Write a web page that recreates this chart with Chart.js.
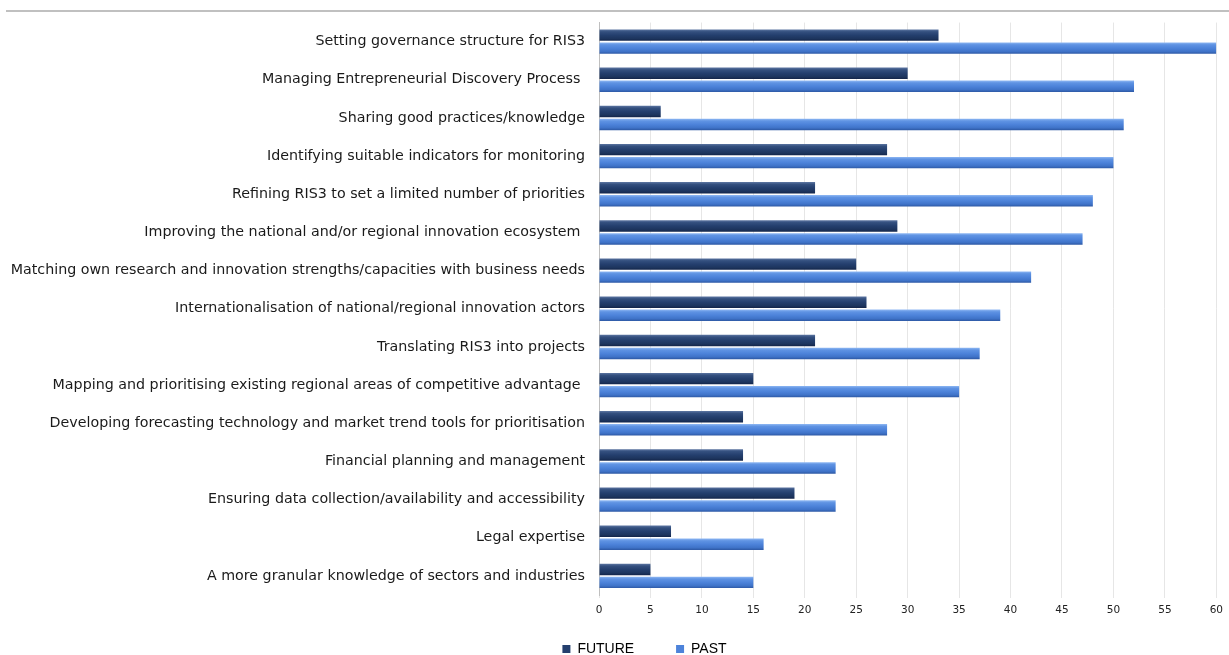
<!DOCTYPE html>
<html>
<head>
<meta charset="utf-8">
<script src="https://cdn.jsdelivr.net/npm/chart.js@4"></script>
<style>
  html, body { margin: 0; padding: 0; background: #fff; overflow: hidden; }
  #wrap { position: relative; width: 1229px; height: 655px; overflow: hidden; }
  #rule { position: absolute; left: 6px; right: 0; top: 10px; height: 2px; background: #c0c0c0; }
  canvas { position: absolute; left: 0; top: 0; }
</style>
</head>
<body>
<div id="wrap">
  <div id="rule"></div>
  <canvas id="chart" width="1229" height="666"></canvas>
</div>
<script>
const categories = [
  "Setting governance structure for RIS3",
  "Managing Entrepreneurial Discovery Process ",
  "Sharing good practices/knowledge",
  "Identifying suitable indicators for monitoring",
  "Refining RIS3 to set a limited number of priorities",
  "Improving the national and/or regional innovation ecosystem ",
  "Matching own research and innovation strengths/capacities with business needs",
  "Internationalisation of national/regional innovation actors",
  "Translating RIS3 into projects",
  "Mapping and prioritising existing regional areas of competitive advantage ",
  "Developing forecasting technology and market trend tools for prioritisation",
  "Financial planning and management",
  "Ensuring data collection/availability and accessibility",
  "Legal expertise",
  "A more granular knowledge of sectors and industries"
];
const futureValues = [33, 30, 6, 28, 21, 29, 25, 26, 21, 15, 14, 14, 19, 7, 5];
const pastValues = [60, 52, 51, 50, 48, 47, 42, 39, 37, 35, 28, 23, 23, 16, 15];
const xTicks = [0, 5, 10, 15, 20, 25, 30, 35, 40, 45, 50, 55, 60];

// glossy look for the bars, like the Excel bevel
const glossStops = {
  FUTURE: ["#5d76a2", "#34507f", "#243f6e", "#1d355e", "#13254a"],
  PAST: ["#8fb8f3", "#5f93e3", "#4d83da", "#3f73c8", "#2d58a4"]
};

const glossPlugin = {
  id: "gloss",
  afterLayout(chart) {
    // push the legend a little to the right, as in the original
    chart.legend.left += 34;
    chart.legend.right += 34;
  },
  beforeDatasetsDraw(chart) {
    const ctx = chart.ctx;
    chart.data.datasets.forEach((ds, i) => {
      const stops = glossStops[ds.label];
      chart.getDatasetMeta(i).data.forEach(el => {
        const h = el.height;
        const g = ctx.createLinearGradient(0, el.y - h / 2, 0, el.y + h / 2);
        g.addColorStop(0, stops[0]);
        g.addColorStop(0.2, stops[1]);
        g.addColorStop(0.5, stops[2]);
        g.addColorStop(0.8, stops[3]);
        g.addColorStop(1, stops[4]);
        el.options = Object.assign({}, el.options, { backgroundColor: g });
      });
    });
  }
};

new Chart(document.getElementById("chart"), {
  type: "bar",
  data: {
    labels: categories,
    datasets: [
      {
        label: "FUTURE",
        data: futureValues,
        backgroundColor: "#243f6e",
        categoryPercentage: 0.68,
        barPercentage: 0.88
      },
      {
        label: "PAST",
        data: pastValues,
        backgroundColor: "#4d83da",
        categoryPercentage: 0.68,
        barPercentage: 0.88
      }
    ]
  },
  options: {
    indexAxis: "y",
    responsive: false,
    animation: false,
    layout: { padding: { top: 18, left: 0, right: 8, bottom: 0 } },
    plugins: {
      legend: {
        position: "bottom",
        labels: {
          boxWidth: 8,
          boxHeight: 8,
          padding: 10,
          color: "#000",
          font: { family: "'Liberation Sans', Arial, sans-serif", size: 14 },
          generateLabels(chart) {
            const items = Chart.defaults.plugins.legend.labels.generateLabels(chart);
            items[0].text = items[0].text + "\u2003\u2003 ";
            items.forEach(it => { it.lineWidth = 0; });
            return items;
          }
        }
      },
      tooltip: { enabled: false }
    },
    scales: {
      x: {
        min: 0,
        max: 60,
        afterBuildTicks(axis) {
          axis.ticks = xTicks.map(v => ({ value: v }));
        },
        afterFit(axis) { axis.height = 37; },
        grid: { color: "#e6e6e6", tickLength: 3, tickColor: "#e6e6e6" },
        border: { display: false },
        ticks: {
          padding: 6,
          color: "#222",
          font: { family: "'DejaVu Sans', Verdana, sans-serif", size: 10.5 }
        }
      },
      y: {
        afterFit(axis) { axis.width = 599; },
        grid: { display: false, drawTicks: false },
        border: { display: true, color: "#bfbfbf", width: 1 },
        ticks: {
          padding: 14,
          autoSkip: false,
          color: "#1a1a1a",
          font: { family: "'DejaVu Sans', Verdana, sans-serif", size: 14.25 }
        }
      }
    }
  },
  plugins: [glossPlugin]
});
</script>
</body>
</html>
